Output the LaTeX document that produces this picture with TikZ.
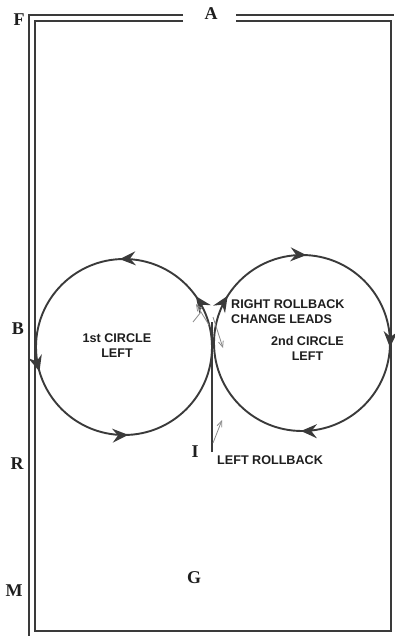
\documentclass[tikz,border=0pt]{standalone}
\usepackage{fontspec}
\setmainfont{Liberation Serif}
\setsansfont{Liberation Sans}
\usetikzlibrary{arrows.meta,decorations.markings}
\definecolor{ink}{HTML}{3A3A3A}
\definecolor{txt}{HTML}{1E1E1E}
\definecolor{thin}{HTML}{8A8A8A}
\tikzset{
  x=1pt,y=1pt,
  frame/.style={draw=ink,line width=1.3pt},
  ring/.style={draw=ink,line width=1.9pt},
  letter/.style={font=\bfseries\fontsize{18}{18}\selectfont,text=txt,inner sep=0pt},
  lbl/.style={font=\sffamily\bfseries\fontsize{12.6}{14.5}\selectfont,text=txt,inner sep=0pt},
  grayarrow/.style={draw=thin,line width=0.8pt,-{Straight Barb[length=6pt,width=5pt]}}
}
\newcommand{\bigtip}{\arrow{Stealth[length=16pt,width=14pt,inset=5.5pt]}}
\begin{document}
\begin{tikzpicture}
\useasboundingbox (0,0) rectangle (394,-636);
% frame
\draw[frame] (183,-15) -- (29,-15) -- (29,-636);
\draw[frame] (236,-15) -- (394,-15);
\draw[frame] (183,-21) -- (35,-21) -- (35,-631) -- (391,-631) -- (391,-21) -- (236,-21);
% letters
\node[letter] (F) at (19,-20) {F};
\node[letter] (A) at (211,-14) {A};
\node[letter] (B) at (18,-329) {B};
\node[letter] (R) at (17,-464) {R};
\node[letter] (M) at (14,-591) {M};
\node[letter] (G) at (194,-578) {G};
\node[letter] (I) at (195,-452) {I};
% left circle (counterclockwise on screen)
\draw[ring,
  postaction={decorate},
  decoration={markings,
    mark=at position 0.098 with {\bigtip},
    mark=at position 0.258 with {\bigtip},
    mark=at position 0.545 with {\bigtip},
    mark=at position 0.758 with {\bigtip}}]
  (212,-347) arc[start angle=0,end angle=360,radius=88];
% right circle (clockwise on screen)
\draw[ring,
  postaction={decorate},
  decoration={markings,
    mark=at position 0.09 with {\bigtip},
    mark=at position 0.258 with {\bigtip},
    mark=at position 0.508 with {\bigtip},
    mark=at position 0.752 with {\bigtip}}]
  (214,-343) arc[start angle=180,end angle=-180,radius=88];
% vertical centre line
\coordinate (vb) at (212,-452);
\coordinate (vt) at (212,-322);
\draw[draw=ink,line width=1.7pt] (vb) -- (vt);
% thin gray marks
\coordinate (g1s) at (213,-317);
\coordinate (g1e) at (223,-348);
\draw[grayarrow] (g1s) -- (g1e);
\coordinate (g2s) at (209,-325);
\coordinate (g2e) at (196,-304);
\draw[grayarrow] (g2s) -- (g2e);
\coordinate (x1) at (193,-322);
\coordinate (x2) at (201,-312);
\draw[draw=thin,line width=0.8pt] (x1) -- (x2);
\coordinate (lrs) at (213,-443);
\coordinate (lre) at (222,-420);
\draw[grayarrow] (lrs) -- (lre);
% labels
\node[lbl,align=center] (c1) at (117,-345.5) {1st CIRCLE\\LEFT};
\node[lbl,align=left,anchor=west] (rr) at (231,-311.5) {RIGHT ROLLBACK\\CHANGE LEADS};
\node[lbl,align=center] (c2) at (307.5,-348.5) {2nd CIRCLE\\LEFT};
\node[lbl,anchor=west] (lr) at (217,-460) {LEFT ROLLBACK};
\end{tikzpicture}
\end{document}
